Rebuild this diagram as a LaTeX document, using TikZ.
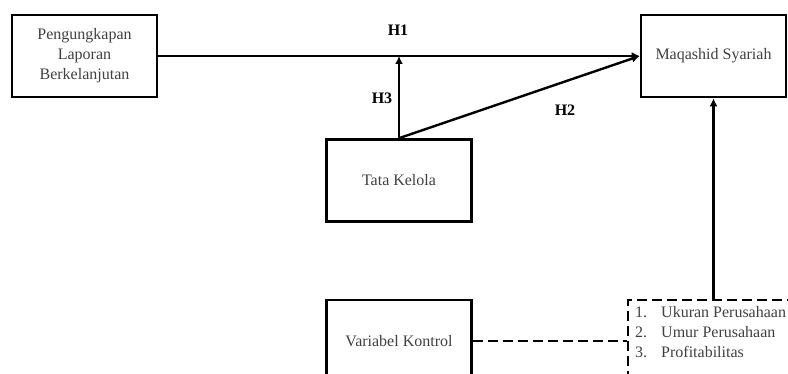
\documentclass[tikz,border=0pt]{standalone}
\usepackage{fontspec}
\setmainfont{Liberation Serif}
\usetikzlibrary{arrows.meta, positioning, calc}
\newcommand{\effect}[2]
{
	\draw[arrowline] (#1) -- (#2)
}

\begin{document}
\begin{tikzpicture}[x=1pt, y=-1pt,
	every node/.append style={font=\fontsize{16}{20}\selectfont, text=black!75},
	box/.style={shape=rectangle, draw=black, line width=2.6pt,
		minimum width=145pt, minimum height=82pt, align=center},
	dashbox/.style={box, line width=2.4pt, dash pattern=on 10pt off 5pt, minimum width=171pt},
	arrowline/.style={line width=2.4pt, -{Latex[length=8pt,width=8pt]}},
	dashline/.style={line width=2.4pt, dash pattern=on 10pt off 5pt},
	hyp/.style={font=\fontsize{16}{19}\selectfont\bfseries, text=black}]

	\useasboundingbox (0,0) rectangle (788,374);
	\clip (0,0) rectangle (788,374);

	\node[box] at (84.5, 56) (PLB){Pengungkapan\\Laporan\\Berkelanjutan};
	\node[box] at (713.5, 56) (MS){Maqashid Syariah};
	\node[box] at (399, 180.5) (TK){Tata Kelola};
	\node[box] at (399, 341) (VK){Variabel Kontrol};
	\node[dashbox] at (713.5, 341) (CV){};
	\node[anchor=north west, inner sep=0pt] at (635, 303) (CVlist){%
		\begin{tabular}{@{}l@{\hspace{14pt}}l@{}}
			1. & Ukuran Perusahaan\\
			2. & Umur Perusahaan\\
			3. & Profitabilitas
		\end{tabular}};

	\coordinate (mod) at (TK.north |- PLB.east);

	\effect{PLB.east}{MS.west};
	\effect{TK.north}{mod};
	\effect{TK.north}{MS.west};
	\effect{CV.north}{MS.south};
	\draw[dashline] (VK.east) -- (CV.west);

	\node[hyp] at (398, 30) (H1){H1};
	\node[hyp] at (382, 98) (H3){H3};
	\node[hyp] at (565, 110) (H2){H2};
\end{tikzpicture}
\end{document}
